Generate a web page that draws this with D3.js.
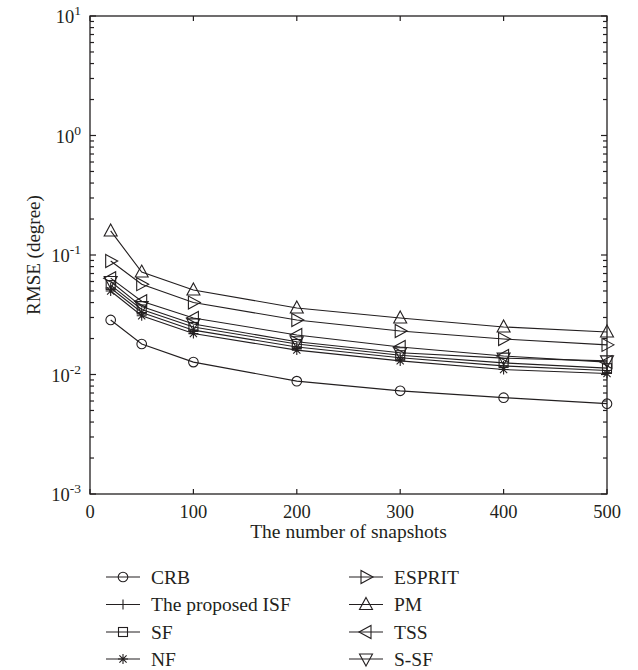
<!DOCTYPE html>
<html><head><meta charset="utf-8">
<script src="https://cdn.jsdelivr.net/npm/d3@7"></script>
<style>body{margin:0;background:#fff}svg{display:block}</style>
</head><body>
<script>
const snapshots = [20, 50, 100, 200, 300, 400, 500];
const seriesNames = ["CRB", "The proposed ISF", "SF", "NF", "ESPRIT", "PM", "TSS", "S-SF"];
const crb    = [0.0286, 0.0180, 0.0127, 0.0088, 0.0073, 0.0064, 0.0057];
const isf    = [0.053, 0.033, 0.0235, 0.0170, 0.0138, 0.0118, 0.0108];
const sf     = [0.056, 0.035, 0.0250, 0.0180, 0.0145, 0.0125, 0.0113];
const nf     = [0.050, 0.031, 0.0220, 0.0160, 0.0130, 0.0110, 0.0102];
const esprit = [0.089, 0.057, 0.0400, 0.0286, 0.0231, 0.0198, 0.0177];
const pm     = [0.159, 0.072, 0.0510, 0.0360, 0.0297, 0.0250, 0.0227];
const tss    = [0.064, 0.041, 0.0297, 0.0214, 0.0170, 0.0143, 0.0127];
const ssf    = [0.060, 0.037, 0.0265, 0.0188, 0.0152, 0.0137, 0.0130];
const xTicks = [0, 100, 200, 300, 400, 500];
const yExps = [-3, -2, -1, 0, 1];

const values = [crb, isf, sf, nf, esprit, pm, tss, ssf];
const markers = ["circle", "plus", "square", "star", "right", "up", "left", "down"];

const W = 638, H = 670;
const L = 90, R = 607, T = 16, B = 494;
const font = "'Liberation Serif', 'DejaVu Serif', serif";
const col = "#231f20";

const svg = d3.select("body").append("svg").attr("width", W).attr("height", H);
const x = d3.scaleLinear().domain([0, 500]).range([L, R]);
const y = d3.scaleLog().domain([1e-3, 1e1]).range([B, T]);

svg.append("rect").attr("x", L).attr("y", T).attr("width", R - L).attr("height", B - T)
  .attr("fill", "none").attr("stroke", col).attr("stroke-width", 1.3);

const gx = svg.append("g");
xTicks.forEach(v => {
  gx.append("line").attr("x1", x(v)).attr("x2", x(v)).attr("y1", B).attr("y2", B - 5).attr("stroke", col).attr("stroke-width", 1.2);
  gx.append("line").attr("x1", x(v)).attr("x2", x(v)).attr("y1", T).attr("y2", T + 5).attr("stroke", col).attr("stroke-width", 1.2);
  gx.append("text").attr("x", x(v)).attr("y", B + 24).attr("text-anchor", "middle")
    .attr("font-family", font).attr("font-size", 18.5).attr("fill", col).text(v);
});
const gy = svg.append("g");
for (let e = -3; e <= 1; e++) {
  for (let m = 1; m <= 9; m++) {
    const v = m * Math.pow(10, e);
    if (v > 10 + 1e-9) continue;
    const len = m === 1 ? 6 : 4;
    gy.append("line").attr("x1", L).attr("x2", L + len).attr("y1", y(v)).attr("y2", y(v)).attr("stroke", col).attr("stroke-width", 1.2);
    gy.append("line").attr("x1", R).attr("x2", R - len).attr("y1", y(v)).attr("y2", y(v)).attr("stroke", col).attr("stroke-width", 1.2);
  }
}
yExps.forEach(e => {
  const t = gy.append("text").attr("x", L - 9).attr("y", y(Math.pow(10, e)) + 7).attr("text-anchor", "end")
    .attr("font-family", font).attr("font-size", 18.5).attr("fill", col);
  t.append("tspan").text("10");
  t.append("tspan").attr("dy", -8).attr("font-size", 13.5).text(e);
});

svg.append("text").attr("x", (L + R) / 2).attr("y", 538).attr("text-anchor", "middle")
  .attr("font-family", font).attr("font-size", 19.5).attr("fill", col).text("The number of snapshots");
svg.append("text").attr("transform", `translate(40,${(T + B) / 2}) rotate(-90)`).attr("text-anchor", "middle")
  .attr("font-family", font).attr("font-size", 19).attr("fill", col).text("RMSE (degree)");

function drawMarker(g, type, cx, cy) {
  const st = e => e.attr("fill", "none").attr("stroke", col).attr("stroke-width", 1.1);
  switch (type) {
    case "circle": st(g.append("circle").attr("cx", cx).attr("cy", cy).attr("r", 4.8)); break;
    case "square": st(g.append("rect").attr("x", cx - 4.5).attr("y", cy - 4.5).attr("width", 9).attr("height", 9)); break;
    case "plus": st(g.append("path").attr("d", `M${cx - 5},${cy}H${cx + 5}M${cx},${cy - 5}V${cy + 5}`)); break;
    case "star": {
      let d = `M${cx - 5},${cy}H${cx + 5}M${cx},${cy - 5}V${cy + 5}`;
      d += `M${cx - 3.6},${cy - 3.6}L${cx + 3.6},${cy + 3.6}M${cx - 3.6},${cy + 3.6}L${cx + 3.6},${cy - 3.6}`;
      st(g.append("path").attr("d", d)); break;
    }
    case "up": st(g.append("path").attr("d", `M${cx},${cy - 7}L${cx + 6.5},${cy + 5}L${cx - 6.5},${cy + 5}Z`)); break;
    case "down": st(g.append("path").attr("d", `M${cx},${cy + 7}L${cx + 6.5},${cy - 5}L${cx - 6.5},${cy - 5}Z`)); break;
    case "right": st(g.append("path").attr("d", `M${cx + 7},${cy}L${cx - 5},${cy - 6.5}L${cx - 5},${cy + 6.5}Z`)); break;
    case "left": st(g.append("path").attr("d", `M${cx - 7},${cy}L${cx + 5},${cy - 6.5}L${cx + 5},${cy + 6.5}Z`)); break;
  }
}

const line = d3.line().x((d, i) => x(snapshots[i])).y(d => y(d));
values.forEach((vals, k) => {
  const g = svg.append("g");
  g.append("path").attr("d", line(vals)).attr("fill", "none").attr("stroke", col).attr("stroke-width", 1.1);
  vals.forEach((v, i) => drawMarker(g, markers[k], x(snapshots[i]), y(v)));
});

const legRows = [577, 604.5, 632, 659];
seriesNames.forEach((name, k) => {
  const colIdx = k < 4 ? 0 : 1;
  const row = k % 4;
  const x0 = colIdx === 0 ? 106 : 349, x1 = colIdx === 0 ? 140 : 383;
  const tx = colIdx === 0 ? 151 : 394;
  const cy = legRows[row];
  const g = svg.append("g");
  g.append("line").attr("x1", x0).attr("x2", x1).attr("y1", cy).attr("y2", cy).attr("stroke", col).attr("stroke-width", 1.1);
  drawMarker(g, markers[k], (x0 + x1) / 2, cy);
  g.append("text").attr("x", tx).attr("y", cy + 6.5).attr("font-family", font).attr("font-size", 19.5).attr("fill", col).text(name);
});
</script>
</body></html>
